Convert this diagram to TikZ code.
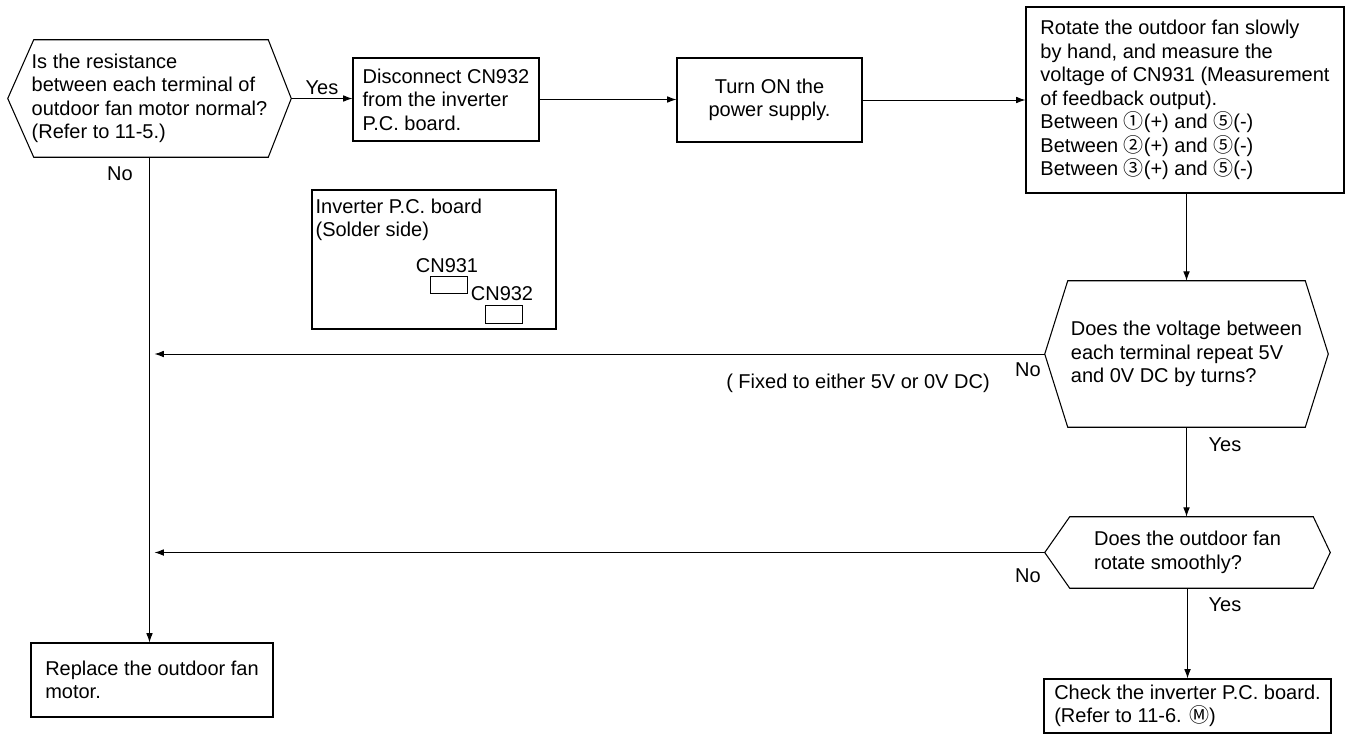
\documentclass[tikz,border=0pt]{standalone}
\usepackage{fontspec}
\setmainfont{Liberation Sans}
\newfontfamily\circfont{Noto Sans CJK JP}
\usepackage{tikz}
\usetikzlibrary{arrows.meta,calc}

% hexagon outline round a decision node: node, left slant, right slant
\newcommand{\hexframe}[3]{%
  \draw[hexline] ($(#1.north west)+(#2,0)$) -- ($(#1.north east)-(#3,0)$) -- (#1.east)
    -- ($(#1.south east)-(#3,0)$) -- ($(#1.south west)+(#2,0)$) -- (#1.west) -- cycle;}

\begin{document}
\begin{tikzpicture}[
  x=0.75pt, y=-0.75pt,
  box/.style={
    draw,
    line width=0.8pt,
    align=left,
    inner sep=0pt
  },
  decision/.style={align=left, inner sep=0pt},
  hexline/.style={line width=0.8pt},
  flow/.style={-{Latex[length=7pt,width=5pt]}, line width=0.7pt},
  tag/.style={inner sep=1pt},
  font=\fontsize{15}{17.6}\selectfont
]
\useasboundingbox (0,0) rectangle (1345,736);

% Decisions
\node[decision,minimum width=212.25pt,minimum height=87.75pt] (q1) at (149.5,98.5)
  {Is the resistance\\between each terminal of\\outdoor fan motor normal?\\(Refer to 11-5.)};
\hexframe{q1}{26}{23}
\node[decision,minimum width=212.25pt,minimum height=109.5pt] (q2) at (1186.5,354)
  {Does the voltage between\\each terminal repeat 5V\\and 0V DC by turns?};
\hexframe{q2}{23}{23}
\node[decision,minimum width=213.75pt,minimum height=53.25pt] (q3) at (1187.5,552.5)
  {Does the outdoor fan\\rotate smoothly?};
\hexframe{q3}{25}{17}

% Process boxes
\node[box,minimum width=139.5pt,minimum height=62.25pt] (disc) at (446,99.5)
  {Disconnect CN932\\from the inverter\\P.C. board.};
\node[box,minimum width=138.75pt,minimum height=63pt,align=center] (power) at (769.5,100)
  {Turn ON the\\power supply.};
\node[box,minimum width=238.5pt,minimum height=139.5pt] (measure) at (1185,100)
  {Rotate the outdoor fan slowly\\by hand, and measure the\\voltage of CN931 (Measurement\\of feedback output).\\
   Between {\circfont ①}(+) and {\circfont ⑤}(-)\\
   Between {\circfont ②}(+) and {\circfont ⑤}(-)\\
   Between {\circfont ③}(+) and {\circfont ⑤}(-)};
\node[box,minimum width=181.5pt,minimum height=55.5pt] (replace) at (152,680)
  {Replace the outdoor fan\\motor.};
\node[box,minimum width=215.25pt,minimum height=40.5pt] (check) at (1187.5,706)
  {Check the inverter P.C. board.\\(Refer to 11-6. {\circfont Ⓜ})};

% Board sketch
\node[box,minimum width=183pt,minimum height=104.25pt] (board) at (434,259.5) {};
\node[tag,anchor=west,align=left] (boardtxt) at (314,220) {Inverter P.C. board\\(Solder side)};
\node[tag] (cn931txt) at (447,266) {CN931};
\node[draw,line width=0.6pt,minimum width=27.75pt,minimum height=12.75pt,inner sep=0pt] (cn931) at (448.5,284.5) {};
\node[tag] (cn932txt) at (502,294) {CN932};
\node[draw,line width=0.6pt,minimum width=27.75pt,minimum height=13.5pt,inner sep=0pt] (cn932) at (503.5,314) {};

% Connectors
\draw[flow] (q1.east) -- (q1.east -| disc.west);
\draw[flow] (disc.east) -- (disc.east -| power.west);
\draw[flow] (power.east) -- (measure.west);
\draw[flow] (q2.north |- measure.south) -- (q2.north);
\draw[flow] (q2.south) -- (q2.south |- q3.north);
\draw[flow] (q3.south) -- (q3.south |- check.north);
\draw[flow] (q1.south) -- (q1.south |- replace.north);
\draw[flow] (q2.west) -- ($(q2.west -| q1.south)+(5,0)$);
\draw[flow] (q3.west) -- ($(q3.west -| q1.south)+(5,0)$);

\node[tag] (yes1) at (322,88) {Yes};
\node[tag] (no1) at (120,174) {No};
\node[tag] (no2) at (1028,370) {No};
\node[tag] (fixed) at (858,383) {( Fixed to either 5V or 0V DC)};
\node[tag] (yes2) at (1225,445) {Yes};
\node[tag] (no3) at (1028,576) {No};
\node[tag] (yes3) at (1225,605) {Yes};
\end{tikzpicture}
\end{document}
